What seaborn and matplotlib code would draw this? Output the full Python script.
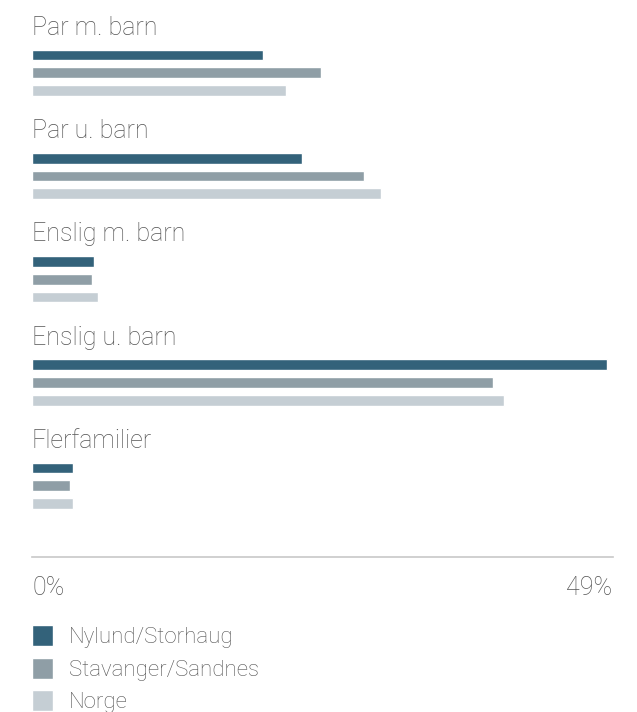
import matplotlib
matplotlib.use('Agg')
import matplotlib.pyplot as plt
import pandas as pd
import seaborn as sns

categories = ['Par m. barn', 'Par u. barn', 'Enslig m. barn', 'Enslig u. barn', 'Flerfamilier']
series = ['Nylund/Storhaug', 'Stavanger/Sandnes', 'Norge']
nylund = [19.5, 22.8, 5.2, 48.5, 3.5]
stavanger = [24.4, 28.0, 5.1, 38.9, 3.2]
norge = [21.4, 29.5, 5.6, 39.8, 3.5]
x_max = 49
tick_labels = ['0%', '49%']
colors = ['#33627a', '#8f9ea6', '#c5ced4']

df = pd.DataFrame({
    'kategori': categories * 3,
    'serie': [s for s in series for _ in categories],
    'andel': nylund + stavanger + norge,
})

sns.set_theme(style='white')
plt.rcParams['font.family'] = ['Roboto', 'DejaVu Sans']
text_color = '#555555'
fs = 18
legend_fs = 16

W, H = 637, 712
fig = plt.figure(figsize=(W / 100, H / 100), dpi=100)
ax_top_px, ax_bot_px = 0, 557
ax = fig.add_axes([32 / W, 1 - ax_bot_px / H, 580.5 / W, (ax_bot_px - ax_top_px) / H])

sns.barplot(data=df, x='andel', y='kategori', hue='serie', order=categories,
            hue_order=series, palette=colors, orient='h', width=0.516, gap=0.39,
            saturation=1, errorbar=None, ax=ax, legend=True)

# one category step is ~103 px in the reference, middle bar of first group at ~73 px
group_px = 103.25
first_mid_px = 72.75
ax.set_ylim(4 + (ax_bot_px - (first_mid_px + 4 * group_px)) / group_px,
            -(first_mid_px - ax_top_px) / group_px)
ax.set_xlim(0, x_max)

for i, cat in enumerate(categories):
    ax.text(0, i - (first_mid_px - 35) / group_px, cat, fontsize=fs, color=text_color,
            fontweight='light', ha='left', va='baseline')

ax.set_yticks([])
ax.set_ylabel('')
ax.set_xlabel('')
ax.set_xticks([0, x_max])
ax.set_xticklabels(tick_labels, fontsize=fs, color=text_color, fontweight='light')
labels = ax.get_xticklabels()
labels[0].set_ha('left')
labels[1].set_ha('right')
ax.tick_params(axis='x', length=0, pad=14)
for side in ['top', 'right', 'left']:
    ax.spines[side].set_visible(False)
ax.spines['bottom'].set_color('#c8c8c8')
ax.spines['bottom'].set_linewidth(1.2)

handles, lbls = ax.get_legend_handles_labels()
ax.legend_.remove()
fig.legend(handles, lbls, loc='upper left', bbox_to_anchor=(32 / W, 1 - 625 / H),
           frameon=False, handlelength=0.95, handleheight=1.1,
           handletextpad=0.7, labelspacing=0.42, borderaxespad=0, borderpad=0,
           labelcolor=text_color, prop={'weight': 'light', 'size': legend_fs})

fig.savefig('out.png', dpi=100)
